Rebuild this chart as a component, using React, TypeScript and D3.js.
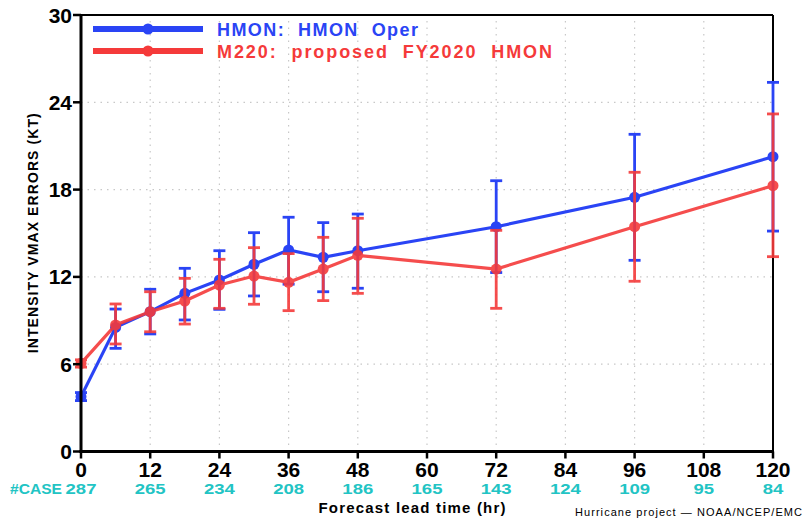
import React from "react";
import * as d3 from "d3";

const hours = [0, 6, 12, 18, 24, 30, 36, 42, 48, 72, 96, 120];
const hmon = [3.77, 8.53, 9.61, 10.87, 11.79, 12.87, 13.85, 13.35, 13.8, 15.45, 17.47, 20.26];
const hmonLo = [3.5, 7.09, 8.08, 9.04, 9.77, 10.69, 11.5, 10.98, 11.22, 12.3, 13.14, 15.15];
const hmonHi = [4.05, 9.79, 11.15, 12.59, 13.8, 15.04, 16.1, 15.73, 16.32, 18.61, 21.8, 25.37];
const m220 = [6.06, 8.7, 9.61, 10.34, 11.44, 12.06, 11.63, 12.54, 13.48, 12.54, 15.45, 18.27];
const m220Lo = [5.8, 7.39, 8.23, 8.76, 9.84, 10.12, 9.68, 10.37, 10.87, 9.84, 11.7, 13.39];
const m220Hi = [6.3, 10.14, 10.98, 11.9, 13.21, 14.01, 13.6, 14.72, 16.03, 15.2, 19.19, 23.2];

const xTicks = [0, 12, 24, 36, 48, 60, 72, 84, 96, 108, 120];
const yTicks = [0, 6, 12, 18, 24, 30];
const caseCounts = [287, 265, 234, 208, 186, 165, 143, 124, 109, 95, 84];

const series = [
  { name: "HMON:  HMON  Oper", color: "#2a44f5", vals: hmon, lo: hmonLo, hi: hmonHi, textLen: 201, opacity: 1 },
  { name: "M220:  proposed  FY2020  HMON", color: "#f53a3a", vals: m220, lo: m220Lo, hi: m220Hi, textLen: 335, opacity: 0.9 },
];

export default function App() {
  const W = 805, H = 518;
  const x = d3.scaleLinear().domain([0, 120]).range([81, 773]);
  const y = d3.scaleLinear().domain([0, 30]).range([451.5, 15]);
  const line = d3.line<number>().x((_, i) => x(hours[i])).y((d) => y(d));
  const font = "'Liberation Sans', Arial, sans-serif";

  return (
    <svg width={W} height={H} style={{ position: "absolute", left: 0, top: 0, background: "#fff" }} fontFamily={font}>
      {/* grid */}
      {xTicks.slice(1, -1).map((t) => (
        <line key={"gx" + t} x1={x(t)} x2={x(t)} y1={y(0)} y2={y(30)} stroke="#c8c8c8" strokeWidth={1.2} strokeDasharray="1.5,5" />
      ))}
      {yTicks.slice(1, -1).map((t) => (
        <line key={"gy" + t} x1={x(0)} x2={x(120)} y1={y(t)} y2={y(t)} stroke="#c8c8c8" strokeWidth={1.2} strokeDasharray="1.5,5" />
      ))}
      {/* frame */}
      <line x1={x(0)} x2={x(120)} y1={y(30)} y2={y(30)} stroke="#000" strokeWidth={2} />
      <line x1={x(120)} x2={x(120)} y1={y(30)} y2={y(0)} stroke="#000" strokeWidth={2} />

      {/* series */}
      {series.map((s) => (
        <g key={s.name} opacity={s.opacity}>
          {s.vals.map((v, i) => (
            <g key={i} stroke={s.color} strokeWidth={2.8}>
              <line x1={x(hours[i])} x2={x(hours[i])} y1={y(s.lo[i])} y2={y(s.hi[i])} />
              <line x1={x(hours[i]) - 6} x2={x(hours[i]) + 6} y1={y(s.lo[i])} y2={y(s.lo[i])} />
              <line x1={x(hours[i]) - 6} x2={x(hours[i]) + 6} y1={y(s.hi[i])} y2={y(s.hi[i])} />
            </g>
          ))}
          <path d={line(s.vals) || ""} fill="none" stroke={s.color} strokeWidth={3.2} />
          {s.vals.map((v, i) => (
            <circle key={"c" + i} cx={x(hours[i])} cy={y(v)} r={5.5} fill={s.color} />
          ))}
        </g>
      ))}

      {/* axes */}
      <line x1={x(0)} x2={x(0)} y1={y(30) - 1} y2={y(0) + 1.5} stroke="#000" strokeWidth={3} />
      <line x1={x(0) - 1.5} x2={x(120) + 1} y1={y(0)} y2={y(0)} stroke="#000" strokeWidth={3} />
      {yTicks.map((t) => (
        <g key={"yt" + t}>
          <line x1={x(0) - 8} x2={x(0)} y1={y(t)} y2={y(t)} stroke="#000" strokeWidth={2.5} />
          <text x={x(0) - 9} y={y(t) + 7.5} textAnchor="end" fontSize={21} fontWeight="bold">{t}</text>
        </g>
      ))}
      {xTicks.map((t, i) => (
        <g key={"xt" + t}>
          <line x1={x(t)} x2={x(t)} y1={y(0)} y2={y(0) + 7} stroke="#000" strokeWidth={2.5} />
          <text x={x(t)} y={477} textAnchor="middle" fontSize={21} fontWeight="bold">{t}</text>
          <text x={x(t)} y={494} textAnchor="middle" fontSize={15} fontWeight="bold" fill="#22c4c4"
            textLength={String(caseCounts[i]).length * 10.3} lengthAdjust="spacingAndGlyphs">{caseCounts[i]}</text>
        </g>
      ))}
      <text x={10} y={494} fontSize={15} fontWeight="bold" fill="#22c4c4" textLength={52} lengthAdjust="spacingAndGlyphs">#CASE</text>

      <text x={412} y={513} textAnchor="middle" fontSize={15} fontWeight="bold" textLength={187} lengthAdjust="spacing">Forecast lead time (hr)</text>
      <text x={575} y={516} fontSize={11} textLength={227} lengthAdjust="spacing">Hurricane project — NOAA/NCEP/EMC</text>
      <text transform={`translate(38,${(y(0) + y(30)) / 2}) rotate(-90)`} textAnchor="middle" fontSize={14} fontWeight="bold" textLength={240} lengthAdjust="spacing">INTENSITY VMAX ERRORS (KT)</text>

      {/* legend */}
      {series.map((s, i) => (
        <g key={"lg" + i}>
          <line x1={93} x2={203} y1={29 + i * 22} y2={29 + i * 22} stroke={s.color} strokeWidth={6} />
          <circle cx={148} cy={29 + i * 22} r={5.5} fill={s.color} />
          <text x={217} y={35.5 + i * 22} fontSize={18} fontWeight="bold" fill={s.color} textLength={s.textLen} lengthAdjust="spacing" style={{ whiteSpace: "pre" }}>{s.name}</text>
        </g>
      ))}
    </svg>
  );
}
